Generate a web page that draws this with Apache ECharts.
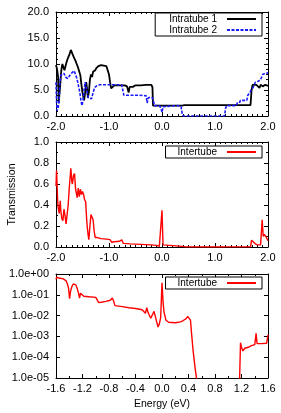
<!DOCTYPE html>
<html>
<head>
<meta charset="utf-8">
<script src="https://cdn.jsdelivr.net/npm/echarts@6/dist/echarts.min.js"></script>
<style>
html,body{margin:0;padding:0;background:#fff;}
#c{width:281px;height:413px;}
</style>
</head>
<body>
<div id="c"></div>
<script>
// ---- data (Energy in eV, Transmission) ----
const intratube1 = [
  [-2.0, 9.8], [-1.98, 9.0], [-1.97, 9.2], [-1.96, 7.5], [-1.95, 2.5], [-1.93, 2.3], [-1.92, 6.0],
  [-1.9, 8.8], [-1.88, 10.0], [-1.86, 9.8], [-1.84, 8.8], [-1.82, 9.6], [-1.8, 10.4], [-1.78, 11.0],
  [-1.76, 11.5], [-1.74, 12.0], [-1.72, 12.7], [-1.7, 12.4], [-1.68, 11.7], [-1.66, 11.2],
  [-1.64, 10.8], [-1.62, 10.3], [-1.6, 10.0], [-1.58, 9.2], [-1.56, 8.5], [-1.54, 7.8], [-1.52, 6.0],
  [-1.5, 4.5], [-1.47, 3.0], [-1.45, 4.5], [-1.43, 6.5], [-1.41, 5.0], [-1.4, 3.5], [-1.38, 4.5],
  [-1.36, 7.0], [-1.34, 8.0], [-1.32, 7.5], [-1.3, 8.5], [-1.28, 8.2], [-1.26, 8.8], [-1.24, 9.2],
  [-1.2, 9.6], [-1.15, 9.8], [-1.1, 9.7], [-1.05, 9.6], [-1.02, 9.3], [-1.0, 8.0], [-0.98, 6.5],
  [-0.96, 5.3], [-0.94, 5.6], [-0.9, 5.9], [-0.8, 5.9], [-0.7, 5.9], [-0.66, 5.7], [-0.63, 4.5],
  [-0.61, 5.6], [-0.58, 5.8], [-0.55, 5.6], [-0.5, 5.9], [-0.4, 5.9], [-0.3, 6.0], [-0.2, 6.0],
  [-0.18, 5.5], [-0.17, 2.0], [0.0, 2.0], [0.38, 2.0], [0.42, 2.1], [0.8, 2.1], [1.2, 2.1],
  [1.67, 2.1], [1.69, 5.0], [1.71, 6.0], [1.78, 6.0], [1.8, 5.8], [1.84, 5.4], [1.86, 6.0],
  [1.9, 5.7], [1.95, 6.0], [2.0, 5.8]
];
const intratube2 = [
  [-2.0, 6.5], [-1.99, 3.0], [-1.98, 1.0], [-1.96, 1.5], [-1.94, 3.0], [-1.93, 6.0], [-1.91, 7.8],
  [-1.88, 8.0], [-1.85, 8.2], [-1.82, 7.5], [-1.78, 7.2], [-1.74, 7.8], [-1.7, 8.3], [-1.66, 8.7],
  [-1.63, 8.0], [-1.6, 7.0], [-1.58, 6.0], [-1.55, 4.5], [-1.53, 3.0], [-1.51, 2.0], [-1.49, 3.0],
  [-1.47, 5.0], [-1.45, 6.5], [-1.43, 5.5], [-1.41, 4.5], [-1.39, 3.5], [-1.36, 3.3], [-1.33, 3.3],
  [-1.3, 4.5], [-1.27, 5.5], [-1.23, 5.8], [-1.18, 6.0], [-1.0, 6.0], [-0.9, 6.0], [-0.76, 6.0],
  [-0.74, 5.0], [-0.72, 4.0], [-0.6, 4.0], [-0.45, 4.0], [-0.3, 3.9], [-0.28, 2.5], [-0.26, 3.5],
  [-0.22, 3.6], [-0.18, 3.5], [-0.14, 2.0], [-0.05, 2.0], [-0.02, 1.5], [0.0, 0.7], [0.02, 1.8],
  [0.05, 2.0], [0.3, 2.0], [0.36, 1.8], [0.38, 0.5], [0.4, 0.0], [1.18, 0.0], [1.2, 1.5],
  [1.22, 2.0], [1.4, 2.0], [1.42, 2.5], [1.46, 2.5], [1.48, 3.0], [1.6, 3.0], [1.62, 4.0],
  [1.66, 4.5], [1.68, 5.0], [1.72, 5.5], [1.76, 6.5], [1.82, 6.7], [1.86, 7.0], [1.9, 8.0],
  [1.95, 8.2], [2.0, 8.3]
];
const intertubeLinear = [
  [-2.0, 0.58], [-1.99, 0.73], [-1.98, 0.6], [-1.97, 0.45], [-1.96, 0.38], [-1.94, 0.32],
  [-1.92, 0.44], [-1.91, 0.35], [-1.89, 0.27], [-1.87, 0.25], [-1.85, 0.36], [-1.83, 0.3],
  [-1.81, 0.22], [-1.79, 0.21], [-1.77, 0.4], [-1.75, 0.56], [-1.72, 0.75], [-1.7, 0.62],
  [-1.69, 0.6], [-1.67, 0.68], [-1.65, 0.7], [-1.63, 0.55], [-1.6, 0.47], [-1.58, 0.56],
  [-1.56, 0.48], [-1.54, 0.55], [-1.52, 0.5], [-1.5, 0.53], [-1.48, 0.5], [-1.46, 0.45],
  [-1.44, 0.43], [-1.42, 0.25], [-1.41, 0.19], [-1.39, 0.1], [-1.38, 0.07], [-1.36, 0.2],
  [-1.34, 0.31], [-1.32, 0.3], [-1.3, 0.26], [-1.28, 0.15], [-1.26, 0.09], [-1.22, 0.09],
  [-1.15, 0.08], [-1.05, 0.075], [-0.98, 0.07], [-0.95, 0.045], [-0.9, 0.05], [-0.8, 0.055],
  [-0.76, 0.068], [-0.73, 0.035], [-0.6, 0.03], [-0.4, 0.025], [-0.2, 0.02], [-0.1, 0.015],
  [-0.05, 0.006], [-0.02, 0.01], [0.0, 0.35], [0.02, 0.02], [0.05, 0.006], [0.38, 0.006],
  [0.45, 0.001], [1.15, 0.0], [1.2, 0.001], [1.67, 0.001], [1.69, 0.065], [1.72, 0.05],
  [1.76, 0.03], [1.8, 0.02], [1.86, 0.02], [1.89, 0.26], [1.91, 0.1], [1.93, 0.12],
  [1.96, 0.1], [1.98, 0.09], [2.0, 0.06]
];
const intertubeLog = [
  [-1.6, 0.55], [-1.59, 0.7], [-1.58, 0.6], [-1.56, 0.75], [-1.54, 0.62], [-1.52, 0.65],
  [-1.5, 0.6], [-1.47, 0.55], [-1.45, 0.48], [-1.43, 0.35], [-1.41, 0.2], [-1.395, 0.065],
  [-1.38, 0.15], [-1.36, 0.25], [-1.34, 0.33], [-1.32, 0.35], [-1.3, 0.3], [-1.28, 0.2],
  [-1.26, 0.12], [-1.245, 0.07], [-1.23, 0.12], [-1.21, 0.1], [-1.18, 0.085], [-1.1, 0.08],
  [-1.0, 0.075], [-0.97, 0.07], [-0.955, 0.042], [-0.9, 0.045], [-0.85, 0.048], [-0.78, 0.055],
  [-0.75, 0.07], [-0.73, 0.05], [-0.71, 0.03], [-0.6, 0.027], [-0.5, 0.024], [-0.4, 0.022],
  [-0.3, 0.019], [-0.27, 0.017], [-0.25, 0.013], [-0.23, 0.024], [-0.21, 0.014], [-0.19, 0.012],
  [-0.17, 0.0075], [-0.14, 0.009], [-0.12, 0.016], [-0.1, 0.009], [-0.08, 0.005], [-0.06, 0.0028],
  [-0.04, 0.004], [-0.02, 0.008], [0.0, 0.38], [0.015, 0.05], [0.03, 0.015], [0.06, 0.006],
  [0.1, 0.0048], [0.2, 0.0045], [0.28, 0.005], [0.32, 0.0058], [0.36, 0.007], [0.38, 0.0065],
  [0.39, 0.009], [0.41, 0.0075], [0.43, 0.006], [0.45, 0.001], [0.47, 0.0002], [0.5, 0.00003],
  [0.53, 0.000006], [0.8, '-'], [1.17, 0.000006], [1.185, 0.0005], [1.2, 0.0003], [1.22, 0.0002],
  [1.25, 0.00027], [1.3, 0.0003], [1.35, 0.00036], [1.4, 0.0004], [1.42, 0.0014], [1.435, 0.00045],
  [1.5, 0.00045], [1.58, 0.00047], [1.6, 0.0012]
];
const seriesNames = ['Intratube 1', 'Intratube 2', 'Intertube'];
const xName = 'Energy (eV)';
const yName = 'Transmission';

// ---- chart ----
const FONT = 'Liberation Sans, Arial, sans-serif';
const fmt1 = v => (Math.abs(v) < 1e-9 ? 0 : v).toFixed(1);
const expFmt = v => {
  const e = Math.round(Math.log10(v));
  return '1.0e' + (e < 0 ? '-' : '+') + String(Math.abs(e)).padStart(2, '0');
};
const axisLine = { show: true, onZero: false, lineStyle: { color: '#000', width: 1 } };
const tick = { show: true, inside: true, length: 4, lineStyle: { color: '#000' } };
const lbl = { color: '#000', fontSize: 11, fontFamily: FONT };

function xAx(grid, min, max, interval, minorSplit, pos, showLabel, extra) {
  return Object.assign({
    type: 'value', gridIndex: grid, min, max, interval, position: pos,
    axisLine, axisTick: tick,
    minorTick: { show: true, splitNumber: minorSplit, length: 2, lineStyle: { color: '#000' } },
    splitLine: { show: false },
    axisLabel: Object.assign({ show: showLabel, formatter: fmt1, margin: 5 }, lbl)
  }, extra || {});
}
function yAx(grid, type, min, max, interval, minorSplit, pos, showLabel, formatter, extra) {
  const a = {
    type, gridIndex: grid, min, max, position: pos,
    axisLine, axisTick: tick,
    splitLine: { show: false },
    axisLabel: Object.assign({ show: showLabel, formatter, margin: 7 }, lbl)
  };
  if (interval != null) a.interval = interval;
  if (minorSplit) a.minorTick = { show: true, splitNumber: minorSplit, length: 2, lineStyle: { color: '#000' } };
  return Object.assign(a, extra || {});
}

const legendBase = {
  orient: 'vertical', align: 'right', right: 19, itemWidth: 29, itemHeight: 8, itemGap: 1,
  borderColor: '#000', borderWidth: 1, borderRadius: 0, backgroundColor: '#fff',
  itemStyle: { color: 'rgba(0,0,0,0)', borderWidth: 0, borderColor: 'rgba(0,0,0,0)' },
  textStyle: { color: '#000', fontSize: 10, fontFamily: FONT, padding: [0, 5, 0, 0] }
};

const option = {
  animation: false,
  backgroundColor: '#fff',
  grid: [
    { left: 56, top: 12, width: 212, height: 104, outerBoundsMode: 'none' },
    { left: 56, top: 142, width: 212, height: 105, outerBoundsMode: 'none' },
    { left: 56, top: 274, width: 212, height: 104, outerBoundsMode: 'none' }
  ],
  xAxis: [
    xAx(0, -2, 2, 1, 10, 'bottom', true),
    xAx(0, -2, 2, 1, 10, 'top', false),
    xAx(1, -2, 2, 1, 10, 'bottom', true),
    xAx(1, -2, 2, 1, 10, 'top', false),
    xAx(2, -1.6, 1.6, 0.4, 2, 'bottom', true, {
      name: xName, nameLocation: 'middle', nameGap: 21,
      nameTextStyle: { color: '#000', fontSize: 10.5, fontFamily: FONT }
    }),
    xAx(2, -1.6, 1.6, 0.4, 2, 'top', false)
  ],
  yAxis: [
    yAx(0, 'value', 0, 20, 5, 5, 'left', true, fmt1),
    yAx(0, 'value', 0, 20, 5, 5, 'right', false, fmt1),
    yAx(1, 'value', 0, 1, 0.2, 2, 'left', true, fmt1, {
      name: yName, nameLocation: 'middle', nameGap: 38, nameRotate: 90,
      nameTextStyle: { color: '#000', fontSize: 10.5, fontFamily: FONT }
    }),
    yAx(1, 'value', 0, 1, 0.2, 2, 'right', false, fmt1),
    yAx(2, 'log', 1e-5, 1, null, 0, 'left', true, expFmt, { logBase: 10, splitNumber: 5 }),
    yAx(2, 'log', 1e-5, 1, null, 0, 'right', false, expFmt, { logBase: 10, splitNumber: 5 })
  ],
  legend: [
    Object.assign({}, legendBase, { top: 13, data: [seriesNames[0], seriesNames[1]], padding: [1, 5, 1, 14] }),
    Object.assign({}, legendBase, { top: 146, data: [seriesNames[2]], padding: [1, 5, 1, 12] }),
    Object.assign({}, legendBase, { top: 277, data: [seriesNames[2]], padding: [1, 5, 1, 12] })
  ],
  series: [
    { name: seriesNames[0], type: 'line', xAxisIndex: 0, yAxisIndex: 0, data: intratube1,
      symbol: 'none', lineStyle: { color: '#000', width: 1.8 }, itemStyle: { color: '#000' } },
    { name: seriesNames[1], type: 'line', xAxisIndex: 0, yAxisIndex: 0, data: intratube2,
      symbol: 'none', lineStyle: { color: '#1a1aff', width: 1.6, type: [3, 1.5] }, itemStyle: { color: '#1a1aff' } },
    { name: seriesNames[2], type: 'line', xAxisIndex: 2, yAxisIndex: 2, data: intertubeLinear,
      symbol: 'none', lineStyle: { color: '#ff0000', width: 1.4 }, itemStyle: { color: '#ff0000' } },
    { name: seriesNames[2], type: 'line', xAxisIndex: 4, yAxisIndex: 4, data: intertubeLog,
      symbol: 'none', connectNulls: false, lineStyle: { color: '#ff0000', width: 1.4 }, itemStyle: { color: '#ff0000' } }
  ]
};
const chart = echarts.init(document.getElementById('c'), null, { renderer: 'canvas' });
chart.setOption(option);
</script>
</body>
</html>
